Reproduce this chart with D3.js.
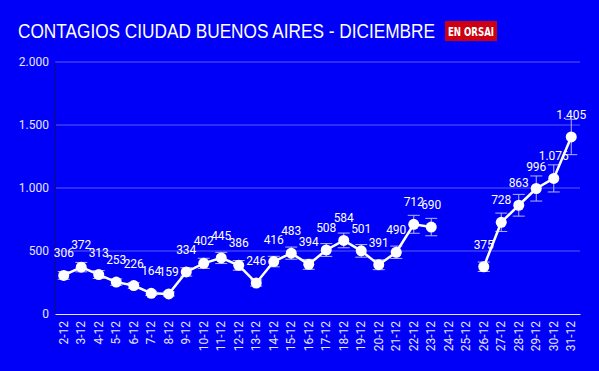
<!DOCTYPE html>
<html>
<head>
<meta charset="utf-8">
<script src="https://cdn.jsdelivr.net/npm/d3@7"></script>
<style>
  html, body { margin: 0; padding: 0; background: #0000f8; }
  #chart { width: 599px; height: 371px; }
</style>
</head>
<body>
<div id="chart"></div>
<script>
const days = ["2-12","3-12","4-12","5-12","6-12","7-12","8-12","9-12","10-12","11-12",
  "12-12","13-12","14-12","15-12","16-12","17-12","18-12","19-12","20-12","21-12",
  "22-12","23-12","24-12","25-12","26-12","27-12","28-12","29-12","30-12","31-12"];
const cases = [306,372,313,253,226,164,159,334,402,445,
  386,246,416,483,394,508,584,501,391,490,
  712,690,null,null,375,728,863,996,1076,1405];
const yTicks = [0, 500, 1000, 1500, 2000];
const errorPct = 0.1; // error bars are +/- 10%

const w = 599, h = 371;
const margin = { top: 62, right: 19, bottom: 57, left: 55 };
const width = w - margin.left - margin.right;
const height = h - margin.top - margin.bottom;

const fmt = d3.formatLocale({ decimal: ",", thousands: ".", grouping: [3], currency: ["$", ""] }).format(",d");

const svg = d3.select("#chart").append("svg")
  .attr("width", w)
  .attr("height", h);

svg.append("rect").attr("width", w).attr("height", h).attr("fill", "#0000f8");

// title + logo (title font is a bit condensed in the original)
svg.append("text")
  .attr("transform", "translate(18,38) scale(0.862,1)")
  .attr("fill", "#fff")
  .style("font-family", "Liberation Sans, Arial, sans-serif")
  .style("font-size", "20px")
  .text("CONTAGIOS CIUDAD BUENOS AIRES - DICIEMBRE");

const logo = svg.append("g").attr("transform", "translate(445,21)");
logo.append("rect").attr("width", 52).attr("height", 20).attr("fill", "#cc0010");
logo.append("text")
  .attr("x", 26).attr("y", 15)
  .attr("text-anchor", "middle")
  .attr("fill", "#fff")
  .style("font-family", "DejaVu Sans Condensed, Liberation Sans Narrow, sans-serif")
  .style("font-weight", "bold")
  .style("font-size", "12px")
  .attr("textLength", 46)
  .attr("lengthAdjust", "spacingAndGlyphs")
  .text("EN ORSAI");

const g = svg.append("g").attr("transform", `translate(${margin.left},${margin.top})`);

const xSc = d3.scaleBand().domain(days).range([0, width]);
const ySc = d3.scaleLinear().domain([0, 2000]).range([height, 0]);
const cx = d => xSc(d) + xSc.bandwidth() / 2;

// gridlines
g.selectAll(".grid")
  .data(yTicks.filter(t => t > 0))
  .join("line")
    .attr("class", "grid")
    .attr("x1", 0).attr("x2", width)
    .attr("y1", d => ySc(d)).attr("y2", d => ySc(d))
    .attr("stroke", "#5a5aff")
    .attr("stroke-width", 1);

// y axis
const yAx = g.append("g")
  .call(d3.axisLeft(ySc).tickValues(yTicks).tickSize(0).tickPadding(6).tickFormat(fmt));
yAx.select(".domain").attr("stroke", "#10106a");
yAx.selectAll("text")
  .attr("fill", "#e6e6ff")
  .style("font-family", "Roboto, sans-serif")
  .style("font-size", "12px");

// x axis
const xAx = g.append("g")
  .attr("transform", `translate(0,${height})`)
  .call(d3.axisBottom(xSc).tickSize(0));
xAx.select(".domain").attr("stroke", "#e6e6ff");
xAx.selectAll("text")
  .attr("fill", "#e6e6ff")
  .style("font-family", "Roboto, sans-serif")
  .style("font-size", "12px")
  .attr("text-anchor", "end")
  .attr("transform", "rotate(-90)")
  .attr("x", -7)
  .attr("y", 0)
  .attr("dy", "0.35em");

const data = days.map((d, i) => ({ day: d, v: cases[i] }));
const valid = data.filter(d => d.v != null);

// error bars
const eb = g.selectAll(".err")
  .data(valid)
  .join("g")
    .attr("class", "err")
    .attr("stroke", "#b4b4ff")
    .attr("stroke-width", 1);
eb.append("line")
  .attr("x1", d => cx(d.day)).attr("x2", d => cx(d.day))
  .attr("y1", d => ySc(d.v * (1 + errorPct))).attr("y2", d => ySc(d.v * (1 - errorPct)));
eb.append("line")
  .attr("x1", d => cx(d.day) - 6).attr("x2", d => cx(d.day) + 6)
  .attr("y1", d => ySc(d.v * (1 + errorPct))).attr("y2", d => ySc(d.v * (1 + errorPct)));
eb.append("line")
  .attr("x1", d => cx(d.day) - 6).attr("x2", d => cx(d.day) + 6)
  .attr("y1", d => ySc(d.v * (1 - errorPct))).attr("y2", d => ySc(d.v * (1 - errorPct)));

// line
const line = d3.line()
  .defined(d => d.v != null)
  .x(d => cx(d.day))
  .y(d => ySc(d.v));

g.append("path")
  .datum(data)
  .attr("fill", "none")
  .attr("stroke", "#fff")
  .attr("stroke-width", 2.5)
  .attr("d", line);

g.selectAll(".dot")
  .data(valid)
  .join("circle")
    .attr("class", "dot")
    .attr("cx", d => cx(d.day))
    .attr("cy", d => ySc(d.v))
    .attr("r", 5.5)
    .attr("fill", "#fff");

g.selectAll(".lbl")
  .data(valid)
  .join("text")
    .attr("class", "lbl")
    .attr("x", d => cx(d.day))
    .attr("y", d => ySc(d.v) - 18)
    .attr("text-anchor", "middle")
    .attr("fill", "#fff")
    .style("font-family", "Roboto, sans-serif")
    .style("font-size", "12px")
    .text(d => fmt(d.v));
</script>
</body>
</html>
